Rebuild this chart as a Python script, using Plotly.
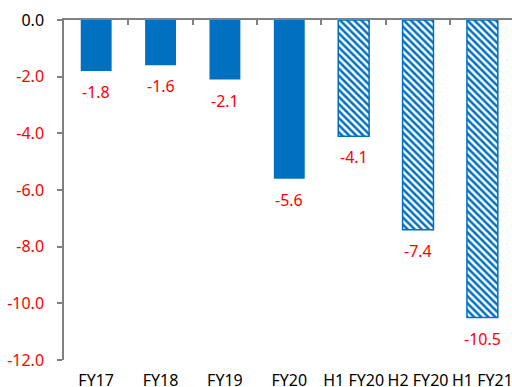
import plotly.graph_objects as go

categories = ["FY17", "FY18", "FY19", "FY20", "H1 FY20", "H2 FY20", "H1 FY21"]
values = [-1.8, -1.6, -2.1, -5.6, -4.1, -7.4, -10.5]
hatched = [False, False, False, False, True, True, True]
y_tick_vals = [0, -2, -4, -6, -8, -10, -12]
y_tick_labels = ["0.0", "-2.0", "-4.0", "-6.0", "-8.0", "-10.0", "-12.0"]

BLUE = "#0070C0"
RED = "#FF0000"
FONT = "Noto Sans"

fig = go.Figure()
fig.add_trace(go.Bar(
    x=categories,
    y=values,
    marker=dict(
        color=BLUE,
        line=dict(color=BLUE, width=[1.5 if h else 0 for h in hatched]),
        pattern=dict(
            shape=["\\" if h else "" for h in hatched],
            bgcolor="white",
            size=5,
            solidity=0.5,
            fillmode="replace",
        ),
    ),
    showlegend=False,
    hoverinfo="skip",
))

for c, v in zip(categories, values):
    fig.add_annotation(
        x=c, y=v, text=f"{v:.1f}", showarrow=False,
        yanchor="top", yshift=-8,
        font=dict(family=FONT, size=16, color=RED),
    )

ticktext = [
    (f'<span style="color:black">{t}</span>' if v == 0 else f'<span style="color:{RED}">{t}</span>')
    for v, t in zip(y_tick_vals, y_tick_labels)
]

n = len(categories)
x_range = [-0.5, 6.46]

fig.update_layout(
    width=512, height=387,
    margin=dict(l=64, r=0, t=20, b=27, autoexpand=False),
    paper_bgcolor="white", plot_bgcolor="white",
    bargap=0.52,
    font=dict(family=FONT, size=16, color="black"),
    xaxis=dict(
        type="category",
        range=x_range,
        automargin=False,
        showline=False, showgrid=False, zeroline=False,
        ticks="", tickangle=0,
        tickfont=dict(family=FONT, size=16, color="black"),
        ticklabelstandoff=9,
    ),
    xaxis2=dict(
        overlaying="x", anchor="y", side="top",
        type="linear",
        range=x_range,
        automargin=False,
        showline=True, linecolor="#808080", linewidth=2,
        showgrid=False, zeroline=False,
        tickvals=[i + 0.5 for i in range(n - 1)],
        ticks="inside", ticklen=5, tickwidth=1.5, tickcolor="#808080",
        showticklabels=False,
    ),
    yaxis=dict(
        range=[-12, 0],
        automargin=False,
        tickvals=y_tick_vals, ticktext=ticktext,
        showline=True, linecolor="#808080", linewidth=1.5,
        ticks="outside", ticklen=5, tickwidth=1.5, tickcolor="#808080",
        showgrid=False, zeroline=False,
        tickfont=dict(family=FONT, size=16, color=RED),
        ticklabelstandoff=10,
    ),
)

fig.add_trace(go.Scatter(x=[], y=[], xaxis="x2", yaxis="y", showlegend=False, hoverinfo="skip"))

fig.write_html("out.html", config={"displayModeBar": False},
               post_script="document.body.style.margin='0';")
